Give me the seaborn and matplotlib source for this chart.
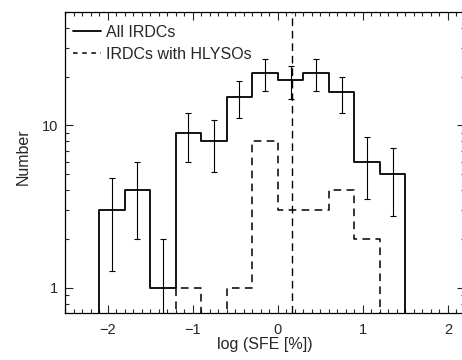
import numpy as np
import pandas as pd
import seaborn as sns
import matplotlib
matplotlib.use("Agg")
import matplotlib.pyplot as plt
from matplotlib.lines import Line2D
from matplotlib.ticker import MultipleLocator, LogLocator, FuncFormatter, NullFormatter

# histogram of log SFE, bins of 0.3 dex
bin_edges = [-2.1, -1.8, -1.5, -1.2, -0.9, -0.6, -0.3, 0.0, 0.3, 0.6, 0.9, 1.2, 1.5]
all_irdcs = [3, 4, 1, 9, 8, 15, 21, 19, 21, 16, 6, 5]
with_hlysos = [0, 0, 0, 1, 0, 1, 8, 3, 3, 4, 2, 0]
median_log_sfe = 0.17
labels = ["All IRDCs", "IRDCs with HLYSOs"]

sns.set_style("ticks")
plt.rcParams["font.family"] = ["Liberation Sans", "DejaVu Sans"]
plt.rcParams["font.size"] = 11.5

edges = np.array(bin_edges)
centers = (edges[:-1] + edges[1:]) / 2
df = pd.DataFrame({"sfe": centers, "all": all_irdcs, "hlyso": with_hlysos})
# one empty bin either side so the outline drops to the axis
step = edges[1] - edges[0]
plot_bins = [edges[0] - step] + list(edges) + [edges[-1] + step]

fig = plt.figure(figsize=(4.62, 3.6), dpi=100)
ax = fig.add_axes([65 / 462, 47 / 360, 400 / 462, 301 / 360])

sns.histplot(data=df, x="sfe", weights="all", bins=plot_bins, element="step",
             fill=False, color="black", linewidth=1.3, ax=ax)
sns.histplot(data=df, x="sfe", weights="hlyso", bins=plot_bins, element="step",
             fill=False, color="black", linewidth=1.1, linestyle=(0, (5, 3.5)), ax=ax)

ax.errorbar(df["sfe"], df["all"], yerr=np.sqrt(df["all"]), fmt="none",
            ecolor="black", elinewidth=0.8, capsize=2, capthick=0.8)
ax.axvline(median_log_sfe, color="black", lw=1.0, ls=(0, (5.5, 3.5)))

ax.set_yscale("log")
ax.set_xlim(-2.5, 2.2)
ax.set_ylim(0.7, 50)

ax.xaxis.set_major_locator(MultipleLocator(1))
ax.xaxis.set_minor_locator(MultipleLocator(0.1))
ax.yaxis.set_major_locator(LogLocator(base=10))
ax.yaxis.set_minor_locator(LogLocator(base=10, subs=np.arange(2, 10)))
ax.yaxis.set_major_formatter(FuncFormatter(lambda v, p: f"{v:g}"))
ax.yaxis.set_minor_formatter(NullFormatter())
ax.tick_params(which="both", direction="in", top=True, right=True, width=0.8,
               labelsize=10.5)
ax.tick_params(which="major", length=5.5)
ax.tick_params(which="minor", length=2.8)
ax.tick_params(axis="x", pad=7)
ax.tick_params(axis="y", pad=5)
for s in ax.spines.values():
    s.set_linewidth(0.9)
    s.set_color("black")

ax.set_xlabel("log (SFE [%])")
ax.set_ylabel("Number")
ax.xaxis.set_label_coords(0.5, -0.08)
ax.yaxis.set_label_coords(-0.085, 0.518)

handles = [Line2D([], [], color="black", lw=1.3),
           Line2D([], [], color="black", lw=1.1, ls=(0, (3, 3)))]
ax.legend(handles, labels, loc="upper left", bbox_to_anchor=(0.02, 0.958),
          frameon=False, borderpad=0, borderaxespad=0, handlelength=1.76,
          handletextpad=0.3, labelspacing=0.45)

fig.savefig("out.png", dpi=100)
